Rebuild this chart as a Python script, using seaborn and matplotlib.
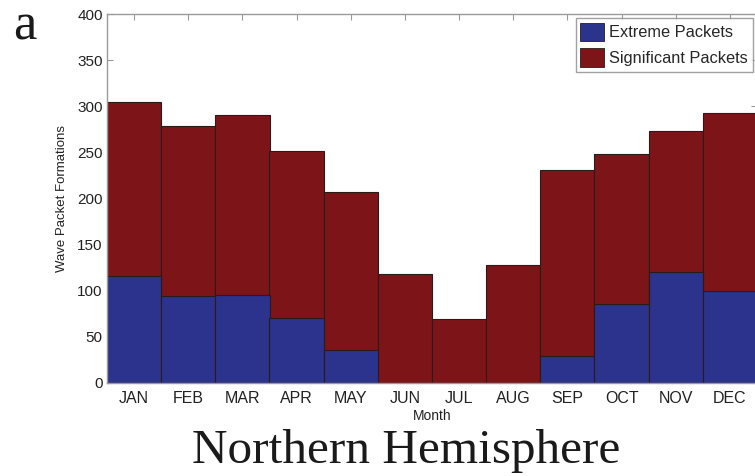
import matplotlib
matplotlib.use("Agg")
import matplotlib.pyplot as plt
from matplotlib.patches import Patch
import seaborn as sns
import pandas as pd

# Monthly wave packet formation counts
months = ["JAN", "FEB", "MAR", "APR", "MAY", "JUN",
          "JUL", "AUG", "SEP", "OCT", "NOV", "DEC"]
significant = [305, 279, 291, 252, 207, 118, 69, 128, 231, 248, 273, 293]
extreme = [116, 94, 95, 71, 36, 0, 0, 0, 29, 86, 120, 100]
y_ticks = [0, 50, 100, 150, 200, 250, 300, 350, 400]

df = pd.DataFrame({"Month": months, "Significant": significant, "Extreme": extreme})

RED = "#7d1518"
BLUE = "#2b338c"
EDGE = "#2a1a1a"
SPINE = "#9a9a9a"

sns.set_theme(style="white")
plt.rcParams["font.family"] = ["Liberation Sans", "DejaVu Sans"]

W, H = 755, 476
fig = plt.figure(figsize=(W / 100, H / 100), dpi=100)
ax = fig.add_axes([107 / W, 1 - 383 / H, (757 - 107) / W, (383 - 14) / H])

sns.barplot(data=df, x="Month", y="Significant", color=RED, width=1.0,
            edgecolor=EDGE, linewidth=0.8, saturation=1, ax=ax)
sns.barplot(data=df, x="Month", y="Extreme", color=BLUE, width=1.0,
            edgecolor=EDGE, linewidth=0.8, saturation=1, ax=ax)

ax.set_xlim(-0.5, len(months) - 0.5)
ax.set_ylim(0, 400)
ax.set_yticks(y_ticks)
ax.set_yticklabels([str(v) for v in y_ticks], fontsize=11, color="#222222")
ax.set_xticks(range(len(months)))
ax.set_xticklabels(months, fontsize=11.5, color="#222222")

ax.set_xlabel("Month", fontsize=10, color="#222222", labelpad=2)
ax.set_ylabel("Wave Packet Formations", fontsize=9.5, color="#222222", labelpad=7)

for side in ["left", "right", "top", "bottom"]:
    ax.spines[side].set_color(SPINE)
    ax.spines[side].set_linewidth(1.0)
ax.tick_params(axis="both", which="major", direction="in", length=4,
               width=0.8, color=SPINE, top=True, right=True,
               bottom=False, left=True, pad=3)
ax.tick_params(axis="x", pad=6)

handles = [Patch(facecolor=BLUE, edgecolor=EDGE, linewidth=0.6, label="Extreme Packets"),
           Patch(facecolor=RED, edgecolor=EDGE, linewidth=0.6, label="Significant Packets")]
leg = ax.legend(handles=handles, loc="upper right", bbox_to_anchor=(0.9935, 0.99),
                fontsize=11.8, frameon=True, fancybox=False, borderpad=0.3,
                handlelength=1.45, handleheight=1.35, handletextpad=0.3,
                labelspacing=0.45, borderaxespad=0.0)
leg.get_frame().set_edgecolor("#8a8a8a")
leg.get_frame().set_linewidth(1.0)

fig.text(25 / W, 1 - 40 / H, "a", family=["Liberation Serif", "DejaVu Serif"],
         fontsize=38, ha="center", va="baseline", color="#1a1a1a")
fig.text(406 / W, 1 - 463 / H, "Northern Hemisphere",
         family=["Liberation Serif", "DejaVu Serif"],
         fontsize=35.5, ha="center", va="baseline", color="#1a1a1a")

fig.savefig("out.png", dpi=100)
